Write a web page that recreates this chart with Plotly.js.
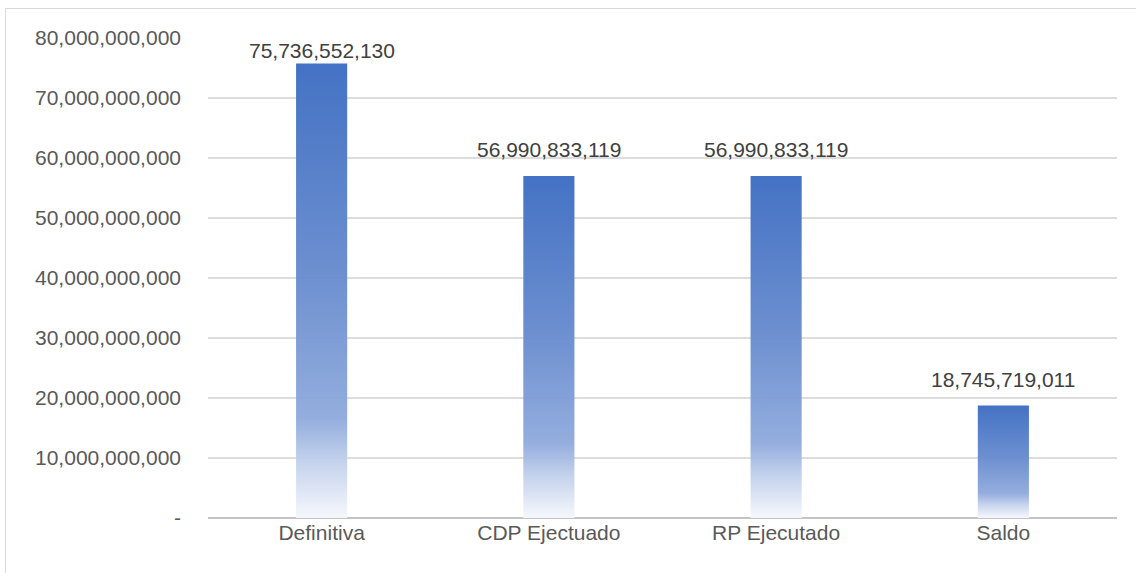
<!DOCTYPE html>
<html>
<head>
<meta charset="utf-8">
<script src="https://cdn.plot.ly/plotly-3.0.1.min.js"></script>
<style>
  html, body { margin: 0; padding: 0; background: #ffffff; }
  #wrap { position: relative; width: 1136px; height: 573px; overflow: hidden; }
  #frame { position: absolute; left: 5px; top: 8px; width: 1140px; height: 580px; border: 1.5px solid #D9D9D9; box-sizing: border-box; pointer-events: none; }
  #chart { position: absolute; left: 0; top: 0; width: 1136px; height: 573px; }
</style>
</head>
<body>
<div id="wrap">
  <div id="chart"></div>
  <div id="frame"></div>
</div>
<script>
const categories = ["Definitiva", "CDP Ejectuado", "RP Ejecutado", "Saldo"];
const values = [75736552130, 56990833119, 56990833119, 18745719011];
const tickValues = [0, 10000000000, 20000000000, 30000000000, 40000000000, 50000000000, 60000000000, 70000000000, 80000000000];
const tickLabels = ["-", "10,000,000,000", "20,000,000,000", "30,000,000,000", "40,000,000,000", "50,000,000,000", "60,000,000,000", "70,000,000,000", "80,000,000,000"];
const yMax = 80000000000;

function fmt(v) { return v.toString().replace(/\B(?=(\d{3})+(?!\d))/g, ","); }

const trace = {
  type: "bar",
  x: categories,
  y: values,
  marker: { color: "#4472C4", line: { width: 0 } },
  hoverinfo: "none"
};

// Data labels: placed above each bar; a label that would leave the plot area is kept just under its top edge
const annotations = categories.map((c, i) => {
  const v = values[i];
  const nearTop = v > yMax * 0.9;
  return {
    x: c, y: nearTop ? yMax : v, xref: "x", yref: "y",
    text: fmt(v), showarrow: false,
    yanchor: nearTop ? "top" : "bottom",
    yshift: nearTop ? 1 : 13,
    font: { family: "Liberation Sans, Arial, sans-serif", size: 21, color: "#404040" }
  };
});

const layout = {
  width: 1136, height: 573,
  margin: { l: 208, r: 19, t: 38, b: 55 },
  paper_bgcolor: "rgba(0,0,0,0)",
  plot_bgcolor: "rgba(0,0,0,0)",
  bargap: 0.775,
  showlegend: false,
  annotations: annotations,
  font: { family: "Liberation Sans, Arial, sans-serif", size: 21, color: "#595959" },
  xaxis: {
    showgrid: false, showline: false, zeroline: false, ticks: "",
    tickfont: { size: 21, color: "#595959" }
  },
  yaxis: {
    range: [0, yMax],
    tickvals: tickValues, ticktext: tickLabels,
    showgrid: true, gridcolor: "#DDDDDD", gridwidth: 1.3,
    zeroline: true, zerolinecolor: "#C4C4C4", zerolinewidth: 1.5,
    showline: false, ticks: "", ticklabelstandoff: 26,
    tickfont: { size: 21, color: "#595959" }
  }
};

function applyGradient(gd) {
  const svg = gd.querySelector("svg.main-svg");
  if (!svg) return;
  let defs = svg.querySelector("defs");
  if (!defs) { defs = document.createElementNS("http://www.w3.org/2000/svg", "defs"); svg.insertBefore(defs, svg.firstChild); }
  if (!svg.querySelector("#barGrad")) {
    const lg = document.createElementNS("http://www.w3.org/2000/svg", "linearGradient");
    lg.setAttribute("id", "barGrad");
    lg.setAttribute("x1", "0"); lg.setAttribute("y1", "0");
    lg.setAttribute("x2", "0"); lg.setAttribute("y2", "1");
    const stops = [[0, "#4472C4", 1], [0.45, "#678BCE", 0.97], [0.78, "#8EA9DC", 0.95], [0.88, "#C3D1EC", 0.95], [1, "#F5F7FC", 0.95]];
    stops.forEach(s => {
      const st = document.createElementNS("http://www.w3.org/2000/svg", "stop");
      st.setAttribute("offset", s[0]);
      st.setAttribute("stop-color", s[1]);
      st.setAttribute("stop-opacity", s[2]);
      lg.appendChild(st);
    });
    defs.appendChild(lg);
  }
  gd.querySelectorAll(".barlayer .point path").forEach(p => {
    p.style.fill = "url(#barGrad)";
    p.style.fillOpacity = 1;
  });
}

const gd = document.getElementById("chart");
Plotly.newPlot(gd, [trace], layout, { staticPlot: true, displayModeBar: false }).then(() => {
  applyGradient(gd);
  gd.on && gd.on("plotly_afterplot", () => applyGradient(gd));
});
</script>
</body>
</html>
